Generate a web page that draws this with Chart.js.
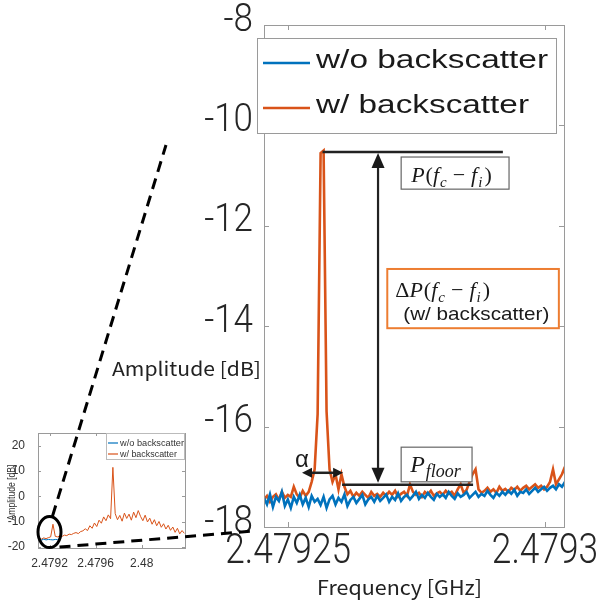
<!DOCTYPE html>
<html>
<head>
<meta charset="utf-8">
<script src="https://cdn.jsdelivr.net/npm/chart.js@4.4.0/dist/chart.umd.min.js"></script>
<style>
html, body { margin: 0; padding: 0; background: #fff; }
#wrap { position: relative; width: 601px; height: 605px; overflow: hidden; }
#wrap canvas { position: absolute; left: 0; top: 0; }
</style>
</head>
<body>
<div id="wrap">
  <canvas id="mainChart" width="601" height="605" style="width:601px;height:605px"></canvas>
  <canvas id="insetChart" width="601" height="605" style="width:601px;height:605px"></canvas>
</div>
<script>
// ---- data ----
const seriesNames = ['w/o backscatter', 'w/ backscatter'];

// zoomed view (GHz grid, dB values)
const mainFreqStart = 2.4792453;
const mainFreqStep = 0.00000058;
const mainNoBackscatter = [
  -17.42, -17.55, -17.35, -17.60, -17.40, -17.48, -17.30, -17.58, -17.45, -17.62,
  -17.40, -17.52, -17.36, -17.55, -17.42, -17.60, -17.38, -17.50, -17.44, -17.56,
  -17.40, -17.62, -17.45, -17.38, -17.55, -17.42, -17.50, -17.35, -17.58, -17.46,
  -17.40, -17.52, -17.44, -17.36, -17.55, -17.45, -17.40, -17.50, -17.38, -17.48,
  -17.42, -17.35, -17.50, -17.40, -17.46, -17.33, -17.48, -17.40, -17.36, -17.45,
  -17.38, -17.30, -17.44, -17.36, -17.42, -17.32, -17.40, -17.46, -17.34, -17.40,
  -17.35, -17.42, -17.30, -17.38, -17.44, -17.33, -17.40, -17.36, -17.30, -17.42,
  -17.36, -17.30, -17.40, -17.34, -17.38, -17.28, -17.36, -17.42, -17.32, -17.38,
  -17.30, -17.36, -17.28, -17.34, -17.26, -17.38, -17.30, -17.32, -17.25, -17.34,
  -17.28, -17.22, -17.30, -17.25, -17.20, -17.28, -17.22, -17.18, -17.25, -17.15,
  -17.20, -17.10
];
const mainWithBackscatter = [
  -17.45, -17.38, -17.50, -17.40, -17.35, -17.46, -17.30, -17.42, -17.36, -17.40,
  -17.20, -17.35, -17.42, -17.28, -17.38, -17.30, -17.10, -16.85, -15.75, -10.55,
  -10.50, -15.70, -16.85, -17.10, -16.95, -17.25, -16.95, -17.20, -17.35, -17.28,
  -17.40, -17.32, -17.38, -17.30, -17.36, -17.42, -17.30, -17.38, -17.34, -17.40,
  -17.32, -17.38, -17.30, -17.36, -17.28, -17.40, -17.34, -17.30, -17.38, -17.15,
  -17.30, -17.36, -17.32, -17.40, -17.30, -17.35, -17.28, -17.38, -17.33, -17.30,
  -17.36, -17.28, -17.34, -17.30, -17.38, -17.25, -17.15, -17.32, -17.26, -17.10,
  -16.95, -16.85, -17.25, -17.32, -17.28, -17.22, -17.30, -17.25, -17.32, -17.20,
  -17.28, -17.24, -17.30, -17.22, -17.26, -17.20, -17.28, -17.22, -17.18, -17.25,
  -17.20, -17.15, -17.22, -17.18, -17.25, -17.20, -17.10, -16.85, -17.15, -17.05,
  -16.95, -16.80
];
const mainXTicks = [2.47925, 2.4793];
const mainXTickLabels = ['2.47925', '2.4793'];
const mainYTicks = [-18, -16, -14, -12, -10, -8];

// inset: whole span
const insetFreqStart = 2.47911;
const insetFreqStep = 0.00002;
const insetNoBackscatter = [-17.0, -17.3, -16.9, -17.2, -17.0, -17.1, -17.2, -17.0, -17.1, -16.9];
const insetWithBackscatter = [
  -16.5, -16.9, -16.4, -16.7, -16.3, -16.0, -11.0, -15.8, -16.0, -15.6,
  -15.8, -15.3, -15.5, -14.9, -15.1, -14.6, -14.3, -14.7, -13.9, -13.6,
  -12.8, -13.5, -11.6, -12.6, -10.5, -11.9, -9.4, -10.6, -8.1, -9.6,
  -7.3, -8.8, 11.5, -6.8, -9.2, -7.5, -9.8, -6.6, -8.7, -7.0,
  -9.4, -6.2, -8.4, -5.6, -7.9, -9.6, -7.4, -10.1, -8.6, -11.0,
  -9.2, -11.6, -9.9, -12.2, -10.8, -12.9, -11.4, -13.4, -12.1, -14.2,
  -12.6, -14.8, -13.5, -14.6
];
const insetXTicks = [2.4792, 2.4796, 2.48];
const insetXTickLabels = ['2.4792', '2.4796', '2.48'];
const insetYTicks = [-20, -10, 0, 10, 20];

// annotation anchors (GHz / dB)
const peakLevel = -10.53;
const floorLevel = -17.16;
const zoomCentre = [2.4792, -14.1];

// ---- styling ----
var BLUE = '#0072BD', ORANGE = '#D95319', AXIS = '#9a9a9a', INK = '#1a1a1a';
var TICK_FONT = '300 {s}px Roboto, "Liberation Sans", sans-serif';
var SANS = '"Liberation Sans", Arial, sans-serif';
var JP = '"Noto Sans CJK JP", "Noto Sans", sans-serif';
var SERIF = '"Liberation Serif", "DejaVu Serif", serif';

function toPoints(start, step, values) {
  return values.map(function (v, i) { return { x: start + i * step, y: v }; });
}

// text with a horizontal scale factor
function drawScaled(ctx, text, x, y, sx, font, align, baseline) {
  ctx.save();
  ctx.font = font;
  ctx.textAlign = align || 'left';
  ctx.textBaseline = baseline || 'alphabetic';
  ctx.translate(x, y);
  ctx.scale(sx, 1);
  ctx.fillText(text, 0, 0);
  ctx.restore();
}

// text squeezed/stretched to a given width
function fitText(ctx, text, x, y, width, font, align) {
  ctx.font = font;
  drawScaled(ctx, text, x, y, width / ctx.measureText(text).width, font, align);
}

// runs of [text, font, dy, extra gap after]
function drawRuns(ctx, runs, x, y) {
  var cx = x;
  ctx.textAlign = 'left';
  runs.forEach(function (r) {
    ctx.font = r[1];
    ctx.fillText(r[0], cx, y + (r[2] || 0));
    cx += ctx.measureText(r[0]).width + (r[3] || 0);
  });
}

function arrowHead(ctx, x, y, ang, len, half) {
  var c = Math.cos(ang), s = Math.sin(ang);
  ctx.beginPath();
  ctx.moveTo(x, y);
  ctx.lineTo(x - len * c + half * s, y - len * s - half * c);
  ctx.lineTo(x - len * c - half * s, y - len * s + half * c);
  ctx.closePath();
  ctx.fill();
}

function boxWithTicks(ctx, chart, len) {
  var a = chart.chartArea, xs = chart.scales.x, ys = chart.scales.y;
  ctx.strokeStyle = AXIS;
  ctx.lineWidth = 1;
  ctx.strokeRect(Math.round(a.left) + 0.5, Math.round(a.top) + 0.5, Math.round(a.right - a.left), Math.round(a.bottom - a.top));
  ctx.beginPath();
  xs.ticks.forEach(function (t) {
    var px = Math.round(xs.getPixelForValue(t.value)) + 0.5;
    ctx.moveTo(px, a.bottom); ctx.lineTo(px, a.bottom - len);
    ctx.moveTo(px, a.top); ctx.lineTo(px, a.top + len);
  });
  ys.ticks.forEach(function (t) {
    var py = Math.round(ys.getPixelForValue(t.value)) + 0.5;
    ctx.moveTo(a.left, py); ctx.lineTo(a.left + len, py);
    ctx.moveTo(a.right, py); ctx.lineTo(a.right - len, py);
  });
  ctx.stroke();
}

// P(fc - fi) written as math runs
function deltaRuns(withDelta) {
  var it = 'italic 22px ' + SERIF, up = '22px ' + SERIF, sub = 'italic 15px ' + SERIF;
  var runs = [['P', it, 0, 1], ['(', up], ['f', it, 0, 1], ['c', sub, 5, 6], ['\u2212', up, 0, 6], ['f', it, 0, 1], ['i', sub, 5, 2], [')', up]];
  return withDelta ? [['\u0394', up]].concat(runs) : runs;
}

var mainDecor = {
  id: 'mainDecor',
  afterDatasetsDraw: function (chart) {
    var ctx = chart.ctx, a = chart.chartArea, xs = chart.scales.x, ys = chart.scales.y;
    ctx.save();
    boxWithTicks(ctx, chart, 5);
    // tick labels, placed by the scales but drawn a little condensed
    ctx.fillStyle = '#262626';
    xs.ticks.forEach(function (t, i) {
      drawScaled(ctx, mainXTickLabels[i], xs.getPixelForValue(t.value), a.bottom + 36, 0.84, TICK_FONT.replace('{s}', 42), 'center');
    });
    ys.ticks.forEach(function (t) {
      drawScaled(ctx, String(t.value), a.left - 11, ys.getPixelForValue(t.value) - 4, 0.92, TICK_FONT.replace('{s}', 38), 'right', 'middle');
    });
    ctx.restore();
  },
  afterDraw: function (chart) {
    var ctx = chart.ctx, a = chart.chartArea, xs = chart.scales.x, ys = chart.scales.y;
    var X = function (f) { return xs.getPixelForValue(f); };
    var Y = function (v) { return ys.getPixelForValue(v); };
    ctx.save();
    ctx.fillStyle = INK;
    ctx.strokeStyle = '#222';

    // peak and floor levels
    ctx.lineWidth = 2.5;
    ctx.beginPath();
    ctx.moveTo(X(2.4792567), Y(peakLevel)); ctx.lineTo(X(2.4792918), Y(peakLevel));
    ctx.moveTo(X(2.4792605), Y(floorLevel)); ctx.lineTo(X(2.4792860), Y(floorLevel));
    ctx.stroke();

    // delta arrow
    var ax = X(2.4792675), yTop = Y(peakLevel) + 1, yBot = Y(floorLevel) - 2;
    ctx.lineWidth = 2.2;
    ctx.beginPath();
    ctx.moveTo(ax, yTop + 12); ctx.lineTo(ax, yBot - 12);
    ctx.stroke();
    arrowHead(ctx, ax, yTop, -Math.PI / 2, 15, 6.5);
    arrowHead(ctx, ax, yBot, Math.PI / 2, 15, 6.5);

    // alpha width arrow
    var ay = Y(-16.92), ax1 = X(2.4792527), ax2 = X(2.4792607);
    ctx.lineWidth = 2.5;
    ctx.beginPath();
    ctx.moveTo(ax1 + 6, ay); ctx.lineTo(ax2 - 6, ay);
    ctx.stroke();
    arrowHead(ctx, ax1, ay, Math.PI, 10, 5);
    arrowHead(ctx, ax2, ay, 0, 10, 5);
    ctx.font = '24px ' + SANS;
    ctx.textAlign = 'left';
    ctx.fillText('\u03b1', ax1 - 7, ay - 6);

    // P(fc - fi) box
    var b1 = [X(2.4792720), Y(-10.63), X(2.4792930), Y(-11.27)];
    ctx.fillStyle = '#fff'; ctx.fillRect(b1[0], b1[1], b1[2] - b1[0], b1[3] - b1[1]);
    ctx.strokeStyle = '#666'; ctx.lineWidth = 1.2;
    ctx.strokeRect(b1[0], b1[1], b1[2] - b1[0], b1[3] - b1[1]);
    ctx.fillStyle = INK;
    drawRuns(ctx, deltaRuns(false), b1[0] + 10, b1[3] - 7);

    // delta P box
    var b2 = [X(2.4792693), Y(-12.86), X(2.4793027), Y(-14.04)];
    ctx.fillStyle = '#fff'; ctx.fillRect(b2[0], b2[1], b2[2] - b2[0], b2[3] - b2[1]);
    ctx.strokeStyle = '#ED7D31'; ctx.lineWidth = 2;
    ctx.strokeRect(b2[0], b2[1], b2[2] - b2[0], b2[3] - b2[1]);
    ctx.fillStyle = INK;
    drawRuns(ctx, deltaRuns(true), b2[0] + 8, b2[1] + 28);
    fitText(ctx, '(w/ backscatter)', b2[0] + 16, b2[1] + 51, 146, '19px ' + SANS);

    // P_floor box
    var b3 = [X(2.4792720), Y(-16.41), X(2.4792858), Y(-17.10)];
    ctx.fillStyle = '#fff'; ctx.fillRect(b3[0], b3[1], b3[2] - b3[0], b3[3] - b3[1]);
    ctx.strokeStyle = '#666'; ctx.lineWidth = 1.2;
    ctx.strokeRect(b3[0], b3[1], b3[2] - b3[0], b3[3] - b3[1]);
    ctx.fillStyle = INK;
    drawRuns(ctx, [['P', 'italic 24px ' + SERIF, 0, 1], ['floor', 'italic 18px ' + SERIF, 5]], b3[0] + 9, b3[3] - 10);

    // legend (sits over the axes box)
    var lx = a.left - 7, ly = a.top + 13, lw = 299, lh = 95;
    ctx.fillStyle = '#fff'; ctx.fillRect(lx, ly, lw, lh);
    ctx.strokeStyle = AXIS; ctx.lineWidth = 1;
    ctx.strokeRect(lx + 0.5, ly + 0.5, lw, lh);
    var rows = [[BLUE, seriesNames[0], 25, 232], [ORANGE, seriesNames[1], 70, 213]];
    rows.forEach(function (r) {
      ctx.strokeStyle = r[0]; ctx.lineWidth = 2.6;
      ctx.beginPath(); ctx.moveTo(lx + 6, ly + r[2]); ctx.lineTo(lx + 53, ly + r[2]); ctx.stroke();
      ctx.fillStyle = INK;
      fitText(ctx, r[1], lx + 59, ly + r[2] + 5, r[3], '25px ' + SANS);
    });

    // axis titles
    ctx.fillStyle = '#222';
    fitText(ctx, 'Amplitude [dB]', 112, 376, 149, '19px ' + JP);
    fitText(ctx, 'Frequency [GHz]', 317, 595, 165, '20px ' + JP);
    ctx.restore();
  }
};

var mainChart = new Chart(document.getElementById('mainChart').getContext('2d'), {
  type: 'line',
  data: {
    datasets: [
      { label: seriesNames[0], data: toPoints(mainFreqStart, mainFreqStep, mainNoBackscatter), borderColor: BLUE, borderWidth: 2.6, pointRadius: 0, tension: 0 },
      { label: seriesNames[1], data: toPoints(mainFreqStart, mainFreqStep, mainWithBackscatter), borderColor: ORANGE, borderWidth: 2.6, pointRadius: 0, tension: 0 }
    ]
  },
  options: {
    responsive: false,
    animation: false,
    devicePixelRatio: 1,
    layout: { padding: { left: 0, top: 25, right: 37, bottom: 0 } },
    plugins: { legend: { display: false }, tooltip: { enabled: false } },
    scales: {
      x: {
        type: 'linear', min: 2.4792453, max: 2.4793037,
        grid: { display: false }, border: { display: false },
        afterBuildTicks: function (s) { s.ticks = mainXTicks.map(function (v) { return { value: v }; }); },
        afterFit: function (s) { s.height = 78; s.paddingLeft = 0; s.paddingRight = 0; },
        ticks: { display: false, autoSkip: false }
      },
      y: {
        type: 'linear', min: -18, max: -8,
        grid: { display: false }, border: { display: false },
        afterBuildTicks: function (s) { s.ticks = mainYTicks.map(function (v) { return { value: v }; }); },
        afterFit: function (s) { s.width = 264; s.paddingTop = 0; s.paddingBottom = 0; },
        ticks: { display: false }
      }
    }
  },
  plugins: [mainDecor]
});

var insetDecor = {
  id: 'insetDecor',
  afterDatasetsDraw: function (chart) {
    var ctx = chart.ctx;
    ctx.save();
    boxWithTicks(ctx, chart, 3);
    ctx.restore();
  },
  afterDraw: function (chart) {
    var ctx = chart.ctx, a = chart.chartArea, xs = chart.scales.x, ys = chart.scales.y;
    ctx.save();

    // legend
    var lx = a.right - 79, ly = a.top, lw = 79, lh = 26;
    ctx.fillStyle = '#fff'; ctx.fillRect(lx, ly, lw, lh);
    ctx.strokeStyle = '#bbb'; ctx.lineWidth = 1;
    ctx.strokeRect(lx + 0.5, ly + 0.5, lw - 1, lh);
    [[BLUE, seriesNames[0], 10, 64], [ORANGE, seriesNames[1], 21, 57]].forEach(function (r) {
      ctx.strokeStyle = r[0]; ctx.lineWidth = 1.2;
      ctx.beginPath(); ctx.moveTo(lx + 2, ly + r[2]); ctx.lineTo(lx + 12, ly + r[2]); ctx.stroke();
      ctx.fillStyle = '#333';
      fitText(ctx, r[1], lx + 14, ly + r[2] + 3, r[3], '9px ' + SANS);
    });

    // rotated y title
    ctx.fillStyle = '#333';
    ctx.save();
    ctx.translate(15, (a.top + a.bottom) / 2 + 2);
    ctx.rotate(-Math.PI / 2);
    fitText(ctx, 'Amplitude [dB]', 0, 0, 56, '10px ' + SANS, 'center');
    ctx.restore();

    // zoom marker: ellipse + dashed leaders
    var ex = xs.getPixelForValue(zoomCentre[0]), ey = ys.getPixelForValue(zoomCentre[1]);
    ctx.strokeStyle = '#000';
    ctx.lineWidth = 3;
    ctx.beginPath();
    ctx.ellipse(ex, ey, 11.5, 15.5, 0, 0, Math.PI * 2);
    ctx.stroke();
    ctx.setLineDash([11, 7]);
    ctx.beginPath();
    ctx.moveTo(ex + 3, ey - 16); ctx.lineTo(166, 145);
    ctx.moveTo(ex + 10, ey + 15); ctx.lineTo(253, 531);
    ctx.stroke();
    ctx.restore();
  }
};

var insetChart = new Chart(document.getElementById('insetChart').getContext('2d'), {
  type: 'line',
  data: {
    datasets: [
      { label: seriesNames[0], data: toPoints(insetFreqStart, insetFreqStep, insetNoBackscatter), borderColor: BLUE, borderWidth: 1, pointRadius: 0, tension: 0 },
      { label: seriesNames[1], data: toPoints(insetFreqStart, insetFreqStep, insetWithBackscatter), borderColor: ORANGE, borderWidth: 1, pointRadius: 0, tension: 0 }
    ]
  },
  options: {
    responsive: false,
    animation: false,
    devicePixelRatio: 1,
    layout: { padding: { left: 0, top: 433, right: 416, bottom: 0 } },
    plugins: { legend: { display: false }, tooltip: { enabled: false } },
    scales: {
      x: {
        type: 'linear', min: 2.4791002, max: 2.4803757,
        grid: { display: false }, border: { display: false },
        afterBuildTicks: function (s) { s.ticks = insetXTicks.map(function (v) { return { value: v }; }); },
        afterFit: function (s) { s.height = 57; s.paddingLeft = 0; s.paddingRight = 0; },
        ticks: {
          autoSkip: false, maxRotation: 0, minRotation: 0, padding: 2, color: '#333',
          font: { family: SANS, size: 12, lineHeight: 1 },
          callback: function (v, i) { return insetXTickLabels[i]; }
        }
      },
      y: {
        type: 'linear', min: -20.4, max: 25.1,
        grid: { display: false }, border: { display: false },
        afterBuildTicks: function (s) { s.ticks = insetYTicks.map(function (v) { return { value: v }; }); },
        afterFit: function (s) { s.width = 38; s.paddingTop = 0; s.paddingBottom = 0; },
        ticks: {
          padding: 5, color: '#333',
          font: { family: SANS, size: 12, lineHeight: 1 },
          callback: function (v) { return String(v); }
        }
      }
    }
  },
  plugins: [insetDecor]
});
</script>
</body>
</html>
